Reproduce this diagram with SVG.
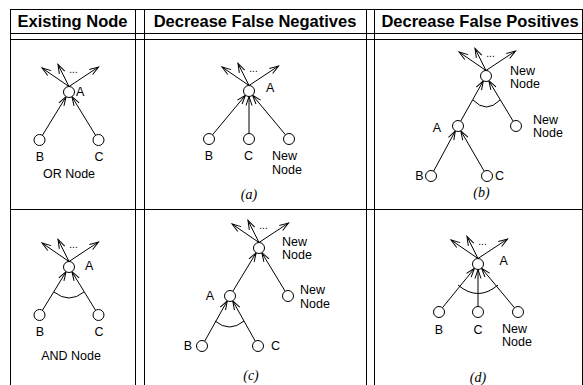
<svg xmlns="http://www.w3.org/2000/svg" width="583" height="385" viewBox="0 0 583 385">
<style>
.tl{stroke:#000;stroke-width:1;fill:none}
.hd{font-family:"Liberation Sans",Arial,sans-serif;font-weight:bold;font-size:16.5px;text-anchor:middle;fill:#000}
.nd{fill:#fff;stroke:#000;stroke-width:1}
.lb{font-family:"Liberation Sans",Arial,sans-serif;font-size:12.5px;fill:#000}
.m{text-anchor:middle}
.e{text-anchor:end}
.dt{font-family:"Liberation Sans",Arial,sans-serif;font-size:10px;text-anchor:middle;fill:#000}
.cap{font-family:"Liberation Serif","Times New Roman",serif;font-style:italic;font-size:14px;text-anchor:middle;fill:#000}
.ed{stroke:#000;stroke-width:1;fill:none;marker-end:url(#ah)}
.arc{stroke:#000;stroke-width:1;fill:none}
</style>
<defs>
<marker id="ah" markerUnits="userSpaceOnUse" markerWidth="10" markerHeight="8" refX="9" refY="3" orient="auto" overflow="visible">
<path d="M0,0 L9,3 L0,6" fill="none" stroke="#000" stroke-width="1"/>
</marker>
</defs>
<rect width="583" height="385" fill="#fff"/>
<g id="table">
<path class="tl" d="M10,9.5 H582.5 M10,33.5 H582.5 M10,39.5 H582.5 M10,209.5 H582.5 M10.5,9 V385 M135.5,9 V385 M144.5,9 V385 M366.5,9 V385 M374.5,9 V385 M582.5,9 V385"/>
</g>
<g id="headers">
<text class="hd" x="72.5" y="27">Existing Node</text>
<text class="hd" x="255" y="27">Decrease False Negatives</text>
<text class="hd" x="480" y="27">Decrease False Positives</text>
</g>
<g id="connectors">
<!-- OR -->
<path class="ed" d="M42.4,135.3 L66.1,96.7"/>
<path class="ed" d="M95.6,135.3 L71.9,96.7"/>
<path class="ed" d="M69,86.5 L42,68"/>
<path class="ed" d="M69,86.5 L58,64.5"/>
<path class="ed" d="M69,86.5 L98.5,67"/>
<!-- AND -->
<path class="ed" d="M42.4,310.3 L66.1,271.7"/>
<path class="ed" d="M95.6,310.3 L71.9,271.7"/>
<path class="ed" d="M69,261.5 L42,243"/>
<path class="ed" d="M69,261.5 L58,239.5"/>
<path class="ed" d="M69,261.5 L98.5,242"/>
<path class="arc" d="M54,292 Q69,304 84,292"/>
<!-- a -->
<path class="ed" d="M212.5,134.8 L245.5,95.2"/>
<path class="ed" d="M249,133.5 L249,96.5"/>
<path class="ed" d="M285.5,134.8 L252.5,95.2"/>
<path class="ed" d="M249,85.5 L222,67"/>
<path class="ed" d="M249,85.5 L238,63.5"/>
<path class="ed" d="M249,85.5 L278.5,66"/>
<!-- b -->
<path class="ed" d="M460.7,121.2 L483.3,80.8"/>
<path class="ed" d="M513.2,121.3 L488.8,80.7"/>
<path class="ed" d="M433.6,171.2 L455.4,130.8"/>
<path class="ed" d="M484.2,171.2 L460.8,130.8"/>
<path class="ed" d="M486,70.5 L459,52"/>
<path class="ed" d="M486,70.5 L475,48.5"/>
<path class="ed" d="M486,70.5 L515.5,51"/>
<path class="arc" d="M473,100 Q486.5,114 500,100"/>
<!-- c -->
<path class="ed" d="M232.8,291.3 L256.2,252.7"/>
<path class="ed" d="M285.2,291.3 L261.8,252.7"/>
<path class="ed" d="M204.7,341.2 L227.3,300.8"/>
<path class="ed" d="M255.3,341.2 L232.7,300.8"/>
<path class="ed" d="M259,242.5 L232,224"/>
<path class="ed" d="M259,242.5 L248,220.5"/>
<path class="ed" d="M259,242.5 L288.5,223"/>
<path class="arc" d="M215,321 Q229.5,333 244,321"/>
<!-- d -->
<path class="ed" d="M442.5,307.7 L474.5,268.3"/>
<path class="ed" d="M478,306.5 L478,269.5"/>
<path class="ed" d="M514.5,307.8 L481.5,268.2"/>
<path class="ed" d="M478,258.5 L451,240"/>
<path class="ed" d="M478,258.5 L467,236.5"/>
<path class="ed" d="M478,258.5 L507.5,239"/>
<path class="arc" d="M458,285 Q478,302 498,285"/>
</g>
<g id="dots">
<text class="dt" x="73.5" y="73">...</text>
<text class="dt" x="73.5" y="248">...</text>
<text class="dt" x="253.5" y="72">...</text>
<text class="dt" x="490.5" y="57">...</text>
<text class="dt" x="263.5" y="229">...</text>
<text class="dt" x="482.5" y="245">...</text>
</g>
<!-- OR cell -->
<g id="or-A"><circle class="nd" cx="69" cy="92" r="5.5"/><text class="lb" x="76" y="96">A</text></g>
<g id="or-B"><circle class="nd" cx="39.5" cy="140" r="5.5"/><text class="lb m" x="40" y="160.5">B</text></g>
<g id="or-C"><circle class="nd" cx="98.5" cy="140" r="5.5"/><text class="lb m" x="99" y="160.5">C</text></g>
<text class="lb m" x="69" y="177.5">OR Node</text>
<!-- AND cell -->
<g id="and-A"><circle class="nd" cx="69" cy="267" r="5.5"/><text class="lb" x="85" y="270">A</text></g>
<g id="and-B"><circle class="nd" cx="39.5" cy="315" r="5.5"/><text class="lb m" x="40" y="335.5">B</text></g>
<g id="and-C"><circle class="nd" cx="98.5" cy="315" r="5.5"/><text class="lb m" x="99" y="335.5">C</text></g>
<text class="lb m" x="71" y="360">AND Node</text>
<!-- (a) -->
<g id="a-A"><circle class="nd" cx="249" cy="91" r="5.5"/><text class="lb" x="266" y="92">A</text></g>
<g id="a-B"><circle class="nd" cx="209" cy="139" r="5.5"/><text class="lb m" x="209" y="159.5">B</text></g>
<g id="a-C"><circle class="nd" cx="249" cy="139" r="5.5"/><text class="lb m" x="248.5" y="159.5">C</text></g>
<g id="a-N"><circle class="nd" cx="289" cy="139" r="5.5"/><text class="lb" x="272" y="160">New</text><text class="lb" x="272" y="174">Node</text></g>
<text class="cap" x="249" y="199">(a)</text>
<!-- (b) -->
<g id="b-T"><circle class="nd" cx="486" cy="76" r="5.5"/><text class="lb" x="510" y="74.5">New</text><text class="lb" x="510" y="87.5">Node</text></g>
<g id="b-A"><circle class="nd" cx="458" cy="126" r="5.5"/><text class="lb e" x="441" y="131.5">A</text></g>
<g id="b-N"><circle class="nd" cx="516" cy="126" r="5.5"/><text class="lb" x="533" y="123.5">New</text><text class="lb" x="533" y="137">Node</text></g>
<g id="b-B"><circle class="nd" cx="431" cy="176" r="5.5"/><text class="lb e" x="423.5" y="180">B</text></g>
<g id="b-C"><circle class="nd" cx="487" cy="176" r="5.5"/><text class="lb" x="495" y="180">C</text></g>
<text class="cap" x="481.5" y="197">(b)</text>
<!-- (c) -->
<g id="c-T"><circle class="nd" cx="259" cy="248" r="5.5"/><text class="lb" x="282" y="245.5">New</text><text class="lb" x="282" y="259">Node</text></g>
<g id="c-A"><circle class="nd" cx="230" cy="296" r="5.5"/><text class="lb e" x="214" y="300">A</text></g>
<g id="c-N"><circle class="nd" cx="288" cy="296" r="5.5"/><text class="lb" x="300" y="293.5">New</text><text class="lb" x="300" y="307.5">Node</text></g>
<g id="c-B"><circle class="nd" cx="202" cy="346" r="5.5"/><text class="lb e" x="192" y="350">B</text></g>
<g id="c-C"><circle class="nd" cx="258" cy="346" r="5.5"/><text class="lb" x="271" y="350">C</text></g>
<text class="cap" x="251" y="380">(c)</text>
<!-- (d) -->
<g id="d-A"><circle class="nd" cx="478" cy="264" r="5.5"/><text class="lb" x="499.5" y="265">A</text></g>
<g id="d-B"><circle class="nd" cx="439" cy="312" r="5.5"/><text class="lb m" x="439" y="333.5">B</text></g>
<g id="d-C"><circle class="nd" cx="478" cy="312" r="5.5"/><text class="lb m" x="478" y="333.5">C</text></g>
<g id="d-N"><circle class="nd" cx="518" cy="312" r="5.5"/><text class="lb" x="502" y="332.5">New</text><text class="lb" x="502" y="346">Node</text></g>
<text class="cap" x="478" y="381.5">(d)</text>
</svg>
